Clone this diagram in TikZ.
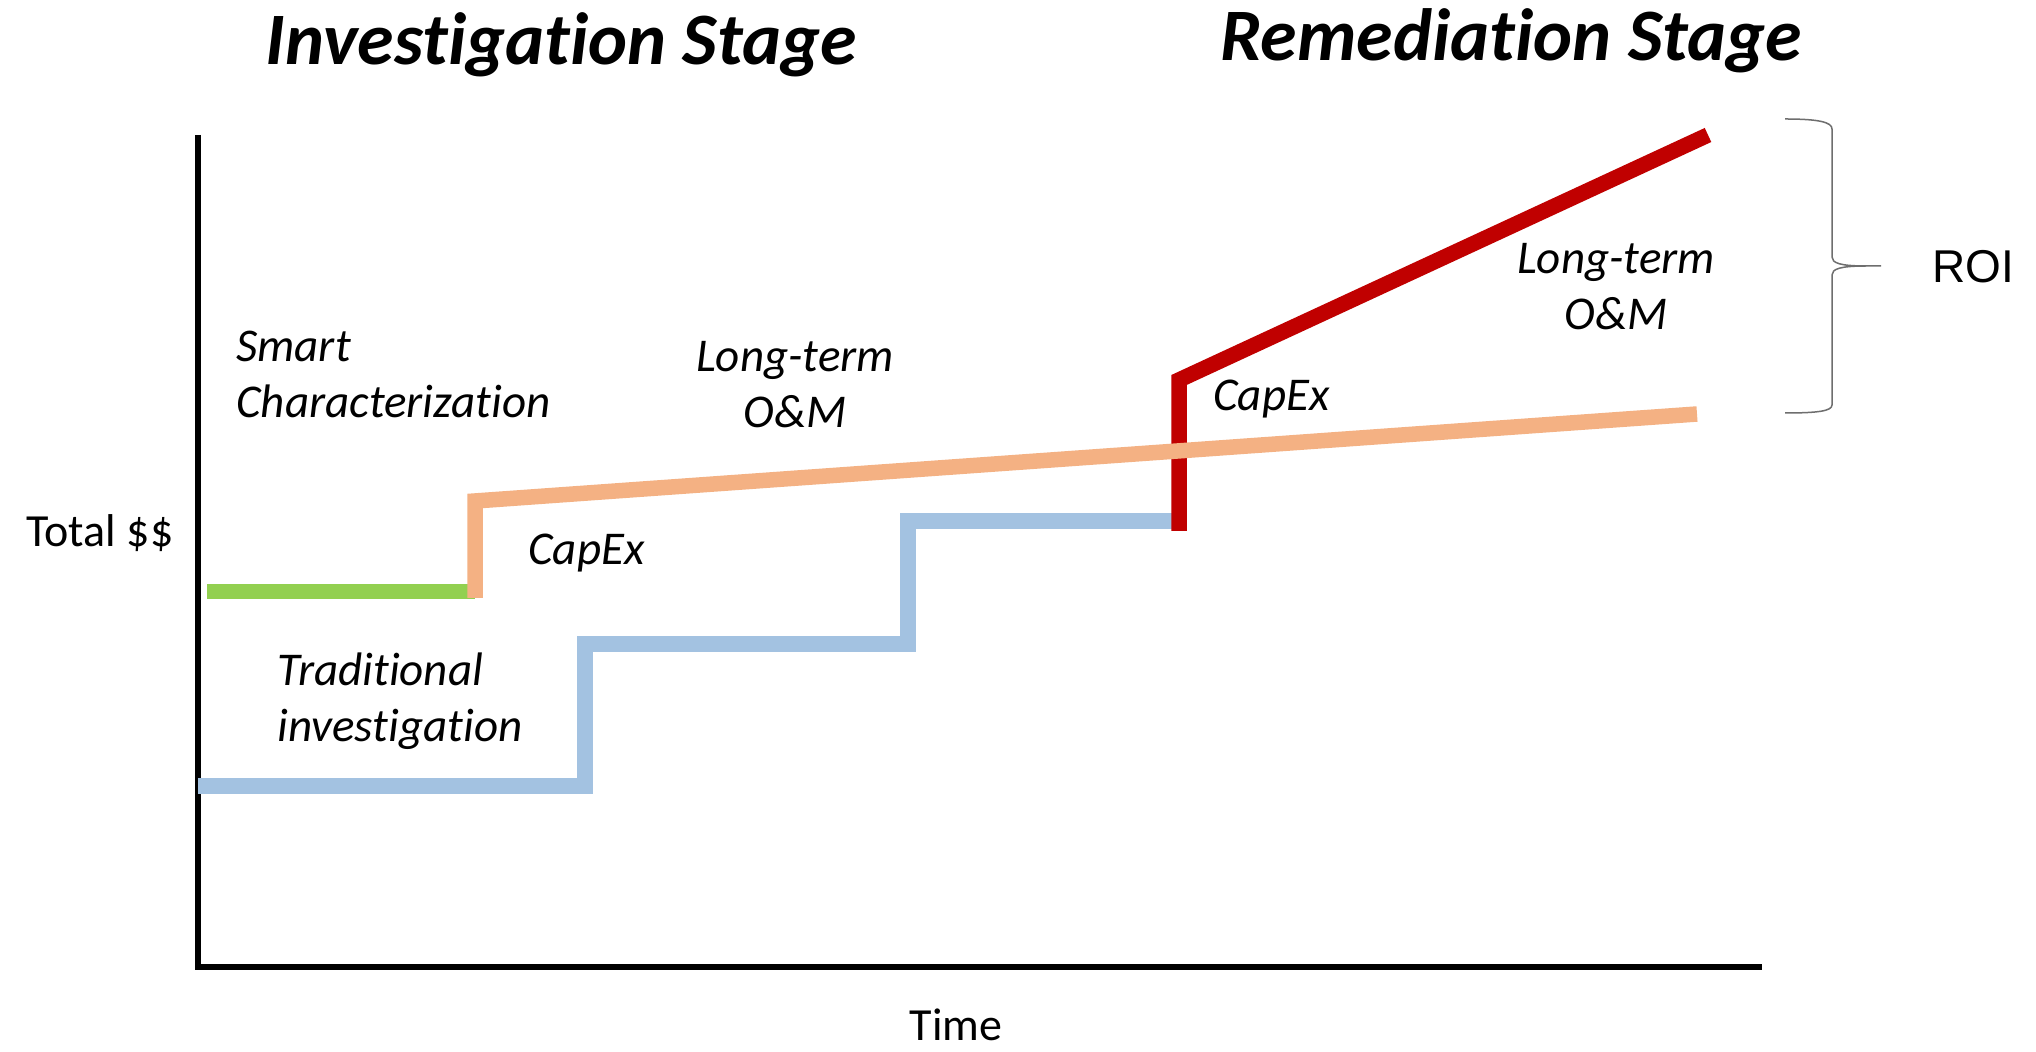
\documentclass[tikz,border=0pt]{standalone}
\usepackage{fontspec}
\setmainfont[RawFeature={-liga;-calt;-dlig}]{Carlito}
\newfontfamily\roifont{Liberation Sans}
\usepackage{tikz}
\definecolor{smartgreen}{HTML}{92D050}
\definecolor{capexorange}{HTML}{F4B183}
\definecolor{tradblue}{HTML}{A3C2E1}
\definecolor{remred}{HTML}{C00000}
\definecolor{bracegray}{HTML}{6E6E6E}

\begin{document}
\begin{tikzpicture}[x=0.5pt,y=-0.5pt,
  axis/.style={line width=2.75pt},
  cost/.style={line width=7.75pt},
  stagelbl/.style={font=\fontsize{37}{44}\selectfont\bfseries\itshape,inner sep=0,anchor=base west},
  phaselbl/.style={font=\fontsize{23.5}{28}\selectfont\itshape,inner sep=0,anchor=base west,align=left},
  axislbl/.style={font=\fontsize{23}{28}\selectfont,inner sep=0}]
\fill[white] (0,0) rectangle (2036,1052);
\draw[axis] (198,135)--(198,967)--(1762,967);
\draw[cost,tradblue] (198,786)--(585,786)--(585,644)--(908,644)--(908,521)--(1179,521);
\draw[cost,remred] (1179,531)--(1179,380)--(1708,135);
\draw[cost,smartgreen] (207,591.5)--(475,591.5);
\draw[cost,capexorange] (475,598)--(475,501)--(1697,414);
\draw[bracegray,line width=0.75pt] (1785,119) .. controls (1818,119) and (1832,122) .. (1832,129)
  --(1832,257) .. controls (1832,263) and (1840,266) .. (1866,266)--(1881,266);
\draw[bracegray,line width=0.75pt] (1866,266) .. controls (1840,266) and (1832,269) .. (1832,275)
  --(1832,405) .. controls (1832,411) and (1818,413) .. (1785,413);
\node[stagelbl] (invstage) at (265,65) {Investigation Stage};
\node[stagelbl] (remstage) at (1220,61) {Remediation Stage};
\node[axislbl,anchor=base west] (ylbl) at (26,547) {Total \$\$};
\node[axislbl,anchor=base] (xlbl) at (956,1040) {Time};
\node[axislbl,anchor=base west,font=\fontsize{23}{28}\selectfont\roifont] (roi) at (1932,283) {ROI};
\node[phaselbl] (smart) at (236,418) {Smart\\Characterization};
\node[phaselbl] (trad) at (277,742) {Traditional\\investigation};
\node[phaselbl] (capexa) at (528,565) {CapEx};
\node[phaselbl,anchor=base,align=center] (omA) at (795,428) {Long-term\\O\&M};
\node[phaselbl] (capexb) at (1213,411) {CapEx};
\node[phaselbl,anchor=base,align=center] (omB) at (1616,330) {Long-term\\O\&M};
\end{tikzpicture}
\end{document}
